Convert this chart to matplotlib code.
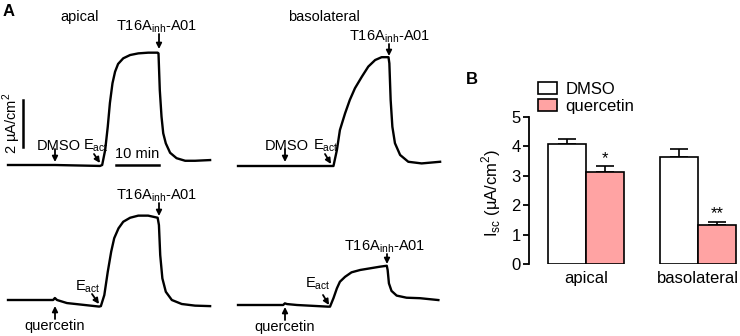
import matplotlib.pyplot as plt
from matplotlib.patches import Patch

plt.rcParams['font.family'] = ['Liberation Sans', 'DejaVu Sans']
plt.rcParams['mathtext.fontset'] = 'custom'
plt.rcParams['mathtext.rm'] = 'Liberation Sans'

W, H = 740, 336
PX_MIN = 4.3    # figure pixels per minute
PX_UA = 23.5    # figure pixels per uA/cm2

# representative Isc traces: time (min), current (uA/cm2)
api_dmso_t = [0, 10.9, 21.4, 21.9, 22.6, 23.2, 23.7, 24.3, 24.9, 25.6, 26.8, 28.4, 30.3,
              32.6, 34.8, 35.0, 35.3, 35.7, 36.1, 36.7, 37.7, 39.2, 41.2, 43.5, 47.0]
api_dmso_i = [0, 0, -0.04, 0, 0.64, 1.63, 2.64, 3.48, 3.97, 4.30, 4.54, 4.68, 4.75,
              4.78, 4.78, 4.75, 3.19, 2.06, 1.35, 0.92, 0.52, 0.29, 0.18, 0.18, 0.21]

bas_dmso_t = [0, 10.9, 21.6, 22.2, 23.0, 23.7, 24.9, 26.0, 27.2, 28.8, 30.3, 31.9,
              33.4, 35.0, 35.2, 35.5, 35.9, 36.5, 37.7, 39.6, 42.7, 47.0]
bas_dmso_i = [0, 0, 0, 0, 0.68, 1.53, 2.24, 2.81, 3.31, 3.80, 4.23, 4.51,
              4.63, 4.63, 4.37, 2.81, 1.67, 0.97, 0.47, 0.18, 0.11, 0.18]

api_quer_t = [0, 10.5, 10.9, 11.4, 13.7, 21.2, 21.6, 22.4, 23.2, 24.0, 24.7, 25.7, 26.8,
              28.4, 30.3, 32.6, 34.8, 35.1, 35.4, 35.9, 36.7, 38.1, 40.4, 43.5, 47.0]
api_quer_i = [0, 0, 0.085, 0, -0.13, -0.28, -0.26, 0.21, 1.20, 2.06, 2.63, 3.05, 3.33,
              3.50, 3.59, 3.59, 3.50, 3.19, 1.91, 0.92, 0.35, 0, -0.17, -0.24, -0.26]

bas_quer_t = [0, 10.5, 10.9, 11.4, 13.7, 20.9, 21.4, 22.2, 23.0, 23.7, 24.9, 26.4,
              28.4, 30.7, 33.0, 34.6, 34.8, 35.1, 35.7, 36.9, 39.2, 42.3, 46.6]
bas_quer_i = [0, 0, 0.07, 0.04, 0, -0.07, -0.07, 0.29, 0.71, 0.99, 1.20, 1.39,
              1.49, 1.56, 1.63, 1.67, 1.49, 0.92, 0.60, 0.40, 0.31, 0.29, 0.21]

# panel B summary
groups = ['apical', 'basolateral']
dmso_mean = [4.07, 3.64]
dmso_err = [0.19, 0.28]
quer_mean = [3.13, 1.33]
quer_err = [0.19, 0.10]
stars = ['*', '**']

PINK = '#ffa3a3'

fig = plt.figure(figsize=(W / 100, H / 100), dpi=100)


def fxy(x, y):
    return x / W, 1 - y / H


def ftext(x, y, s, **kw):
    kw.setdefault('ha', 'center')
    kw.setdefault('va', 'center')
    kw.setdefault('fontsize', 10.5)
    fig.text(*fxy(x, y), s, **kw)


def farrow(x1, y1, x2, y2):
    fig.add_artist(plt.Annotation('', xy=fxy(x2, y2), xytext=fxy(x1, y1),
                                  xycoords='figure fraction', textcoords='figure fraction',
                                  arrowprops=dict(arrowstyle='-|>', color='k', lw=1.3,
                                                  mutation_scale=8, shrinkA=0, shrinkB=0)))


def trace_ax(x0, y0):
    ax = fig.add_axes([0, 0, 1, 1])
    ax.set_xlim(-x0 / PX_MIN, (W - x0) / PX_MIN)
    ax.set_ylim(-(H - y0) / PX_UA, y0 / PX_UA)
    ax.axis('off')
    ax.patch.set_alpha(0)
    return ax


ax1 = trace_ax(8, 165)
ax1.plot(api_dmso_t, api_dmso_i, color='k', lw=1.7, solid_joinstyle='round')
# scale bars
ax1.plot([3.5, 3.5], [0.77, 2.77], color='k', lw=1.8)
ax1.plot([25.1, 35.1], [0, 0], color='k', lw=1.8)

ax2 = trace_ax(238, 166)
ax2.plot(bas_dmso_t, bas_dmso_i, color='k', lw=1.7, solid_joinstyle='round')

ax3 = trace_ax(8, 300)
ax3.plot(api_quer_t, api_quer_i, color='k', lw=1.7, solid_joinstyle='round')

ax4 = trace_ax(238, 305)
ax4.plot(bas_quer_t, bas_quer_i, color='k', lw=1.7, solid_joinstyle='round')

T16 = r'T16A$_\mathregular{inh}$-A01'
EACT = r'E$_\mathregular{act}$'

ftext(3, 11, 'A', ha='left', fontsize=12, fontweight='bold')
ftext(80, 17, 'apical')
ftext(324, 17, 'basolateral')
ftext(12, 123, '2 µA/cm$^2$', rotation=90)
ftext(137, 154, '10 min')

ftext(157, 27, T16)
ftext(390, 37, T16)
ftext(157, 196, T16)
ftext(385, 247, T16)

ftext(59, 146, 'DMSO')
ftext(83, 146, EACT, ha='left')
ftext(287, 146, 'DMSO')
ftext(313, 146, EACT, ha='left')
ftext(75, 287, EACT, ha='left')
ftext(305, 284, EACT, ha='left')
ftext(55, 326, 'quercetin')
ftext(285, 327, 'quercetin')

farrow(55, 149, 55, 162)
farrow(94, 154, 100, 163)
farrow(159, 34, 159, 49)
farrow(285, 149, 285, 162)
farrow(325, 154, 331, 164)
farrow(389, 44, 389, 56)
farrow(55, 319, 55, 306)
farrow(92, 294, 99, 304)
farrow(159, 203, 159, 216)
farrow(285, 320, 285, 307)
farrow(323, 295, 329, 305)
farrow(387, 254, 387, 264)

# panel B
axb = fig.add_axes([529 / W, 1 - 264 / H, 211 / W, 147 / H])
bw = 0.335
xs = [0, 1]
xd = [x - bw / 2 for x in xs]
xq = [x + bw / 2 for x in xs]
axb.bar(xd, dmso_mean, bw, color='white', edgecolor='k', lw=1.2, zorder=2)
axb.bar(xq, quer_mean, bw, color=PINK, edgecolor='k', lw=1.2, zorder=2)
axb.errorbar(xd, dmso_mean, yerr=[[0, 0], dmso_err], fmt='none', ecolor='k',
             elinewidth=1.2, capsize=6.5, capthick=1.2, zorder=1)
axb.errorbar(xq, quer_mean, yerr=[[0, 0], quer_err], fmt='none', ecolor='k',
             elinewidth=1.2, capsize=6.5, capthick=1.2, zorder=1)
for x, m, e, s in zip(xq, quer_mean, quer_err, stars):
    axb.text(x, m + e + 0.02, s, ha='center', va='bottom', fontsize=12)

axb.set_xlim(-0.509, 1.375)
axb.set_ylim(0, 5)
axb.set_yticks(range(6))
axb.set_xticks(xs, groups)
for sp in ['top', 'right', 'bottom']:
    axb.spines[sp].set_visible(False)
axb.spines['left'].set_linewidth(1.3)
axb.tick_params(axis='y', length=4, width=1.3, labelsize=12, pad=2)
axb.tick_params(axis='x', length=0, labelsize=12, pad=5)
axb.patch.set_alpha(0)
axb.set_ylabel(r'I$_\mathregular{sc}$ (µA/cm$^2$)', fontsize=12)
axb.yaxis.set_label_coords(-0.125, 0.483)

handles = [Patch(facecolor='white', edgecolor='k', lw=1.2, label='DMSO'),
           Patch(facecolor=PINK, edgecolor='k', lw=1.2, label='quercetin')]
fig.legend(handles=handles, loc='upper left', bbox_to_anchor=fxy(538, 82), frameon=False,
           fontsize=12, handlelength=1.15, handleheight=0.75, handletextpad=0.5,
           labelspacing=0.1, borderpad=0, borderaxespad=0)

ftext(472, 80, 'B', fontsize=12, fontweight='bold')

fig.savefig('out.png', dpi=100)
